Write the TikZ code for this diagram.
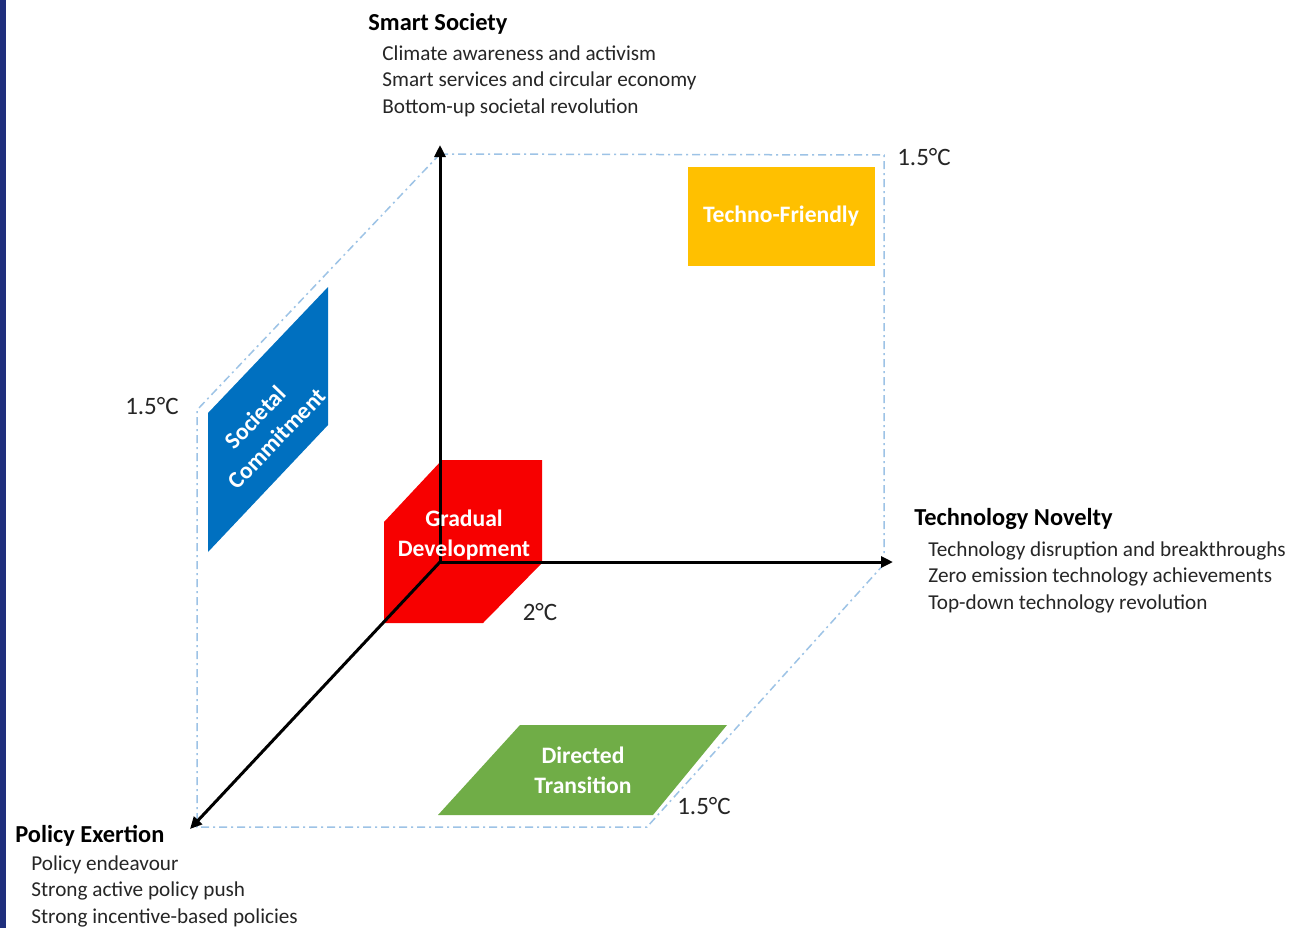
\documentclass[tikz,border=0pt]{standalone}
\usepackage{fontspec}
\setmainfont{Carlito}
\usetikzlibrary{arrows.meta}

\definecolor{stripblue}{HTML}{1F2F7D}
\definecolor{framebl}{HTML}{9DC3E6}
\definecolor{scblue}{HTML}{0070C0}
\definecolor{gdred}{HTML}{F70000}
\definecolor{dtgreen}{HTML}{70AD47}
\definecolor{tfyellow}{HTML}{FFC000}

\begin{document}
\begin{tikzpicture}[x=0.5pt,y=-0.5pt,
    axis/.style={line width=1.5pt,-{Triangle[length=6pt,width=5.5pt]}},
    frame/.style={framebl,line width=0.75pt,dash pattern=on 4pt off 2pt on 1pt off 2pt},
    head/.style={font=\bfseries\fontsize{12.2}{14}\selectfont,anchor=base west,inner sep=0pt},
    items/.style={font=\fontsize{10.6}{13.3}\selectfont,anchor=north west,align=left,inner sep=0pt,text=black!85},
    temp/.style={font=\fontsize{12.5}{14}\selectfont,inner sep=0pt,text=black!85},
    badge/.style={font=\bfseries\fontsize{11.8}{15}\selectfont,text=white,align=center,inner sep=0pt}]
    \useasboundingbox (0,0) rectangle (1291,928);
    \fill[white] (0,0) rectangle (1291,928);
    \fill[stripblue] (0,0) rectangle (6,928);

    % Cornici tratteggiate
    \coordinate (f1) at (440,154);
    \coordinate (f2) at (884,155);
    \coordinate (f3) at (884,556);
    \coordinate (f4) at (197,410);
    \coordinate (f5) at (197,827);
    \coordinate (f6) at (647,827);
    \coordinate (f7) at (885,563);
    \draw[frame] (f1) -- (f2) -- (f3);
    \draw[frame] (f1) -- (f4) -- (f5) -- (f6) -- (f7);

    % Scenari
    \fill[scblue] (208,413) -- (328,287) -- (328,425) -- (208,552) -- cycle;
    \node[badge,rotate=46] (sc) at (266,428) {Societal\\Commitment};

    \fill[gdred] (384,522) -- (442,460) -- (542,460) -- (542,563) -- (483,623) -- (384,623) -- cycle;
    \fill[dtgreen] (520,725) -- (727,725) -- (653,815) -- (438,815) -- cycle;
    \node[badge] (dt) at (583,770) {Directed\\Transition};
    \fill[tfyellow] (688,167) rectangle (875,266);
    \node[badge] (tf) at (781,216) {Techno-Friendly};

    % Assi
    \coordinate (o) at (440,562);
    \coordinate (up) at (440,145);
    \coordinate (rt) at (893,562);
    \coordinate (fr) at (190,829);
    \draw[axis] (o) -- (up);
    \draw[axis] (o) -- (rt);
    \draw[axis] (o) -- (fr);
    \node[badge] (gd) at (464,535) {Gradual\\Development};

    % Temperature
    \node[temp] (t1) at (152,406) {1.5°C};
    \node[temp] (t2) at (924,157) {1.5°C};
    \node[temp] (t3) at (704,806) {1.5°C};
    \node[temp] (t4) at (540,612) {2°C};

    % Etichette degli assi
    \node[head] (ss) at (368,30) {Smart Society};
    \node[items] (ssl) at (382,45) {Climate awareness and activism\\Smart services and circular economy\\Bottom-up societal revolution};

    \node[head] (tn) at (914,525) {Technology Novelty};
    \node[items] (tnl) at (928,541) {Technology disruption and breakthroughs\\Zero emission technology achievements\\Top-down technology revolution};

    \node[head] (pe) at (15,842) {Policy Exertion};
    \node[items] (pel) at (31,855) {Policy endeavour\\Strong active policy push\\Strong incentive-based policies};
\end{tikzpicture}
\end{document}
